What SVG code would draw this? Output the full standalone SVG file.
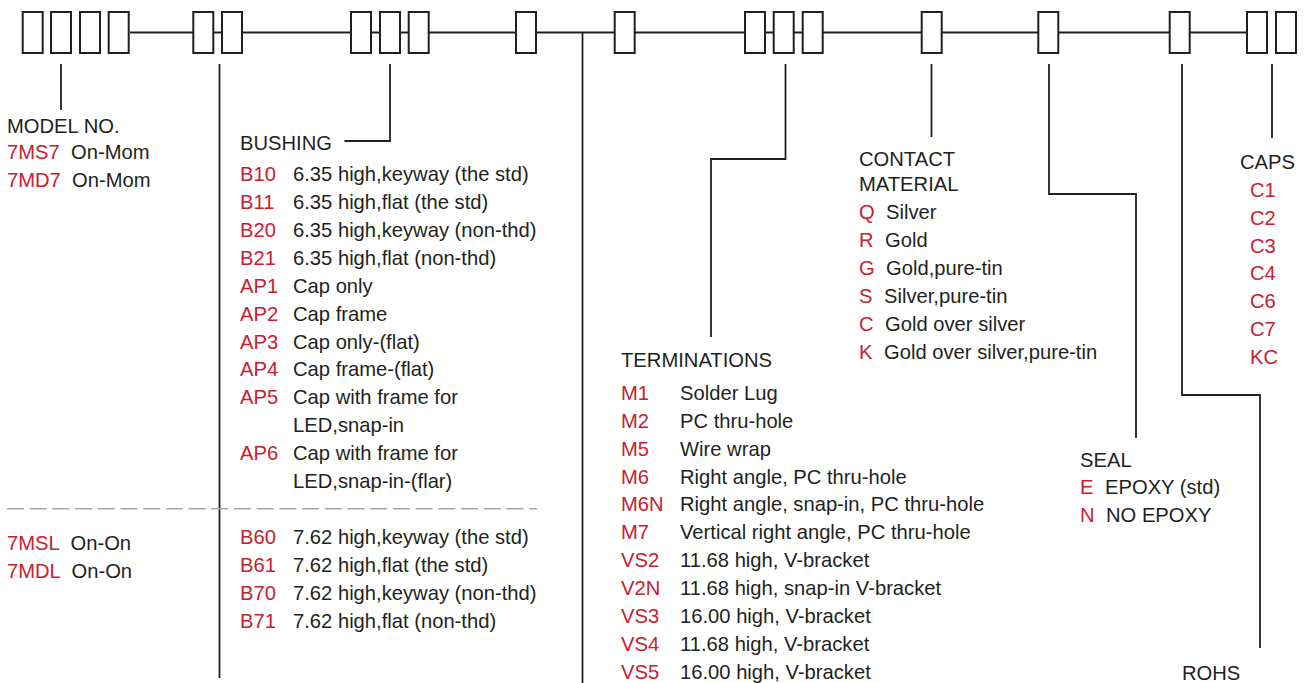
<svg xmlns="http://www.w3.org/2000/svg" width="1315" height="683" viewBox="0 0 1315 683">
<style>
  text { font-family: "Liberation Sans", Arial, sans-serif; font-size: 20.2px; fill: #231f20; }
  .r { fill: #c8202f; }
  .box { fill: #ffffff; stroke: #231f20; stroke-width: 2; }
  .ln { fill: none; stroke: #231f20; stroke-width: 1.8; }
  .dash { fill: none; stroke: #a6a6a6; stroke-width: 1.6; stroke-dasharray: 17 5.7; }
</style>
<rect width="1315" height="683" fill="#ffffff"/>

<g id="connectors">
  <line class="ln" x1="130" y1="32.5" x2="1246" y2="32.5"/>
  <line class="ln" x1="582.5" y1="32.5" x2="582.5" y2="683"/>
  <line class="ln" x1="61" y1="64" x2="61" y2="110"/>
  <line class="ln" x1="219.5" y1="64" x2="219.5" y2="678"/>
  <polyline class="ln" points="390,64 390,141 344.5,141"/>
  <polyline class="ln" points="785.5,64 785.5,159 711,159 711,337"/>
  <line class="ln" x1="931.5" y1="64" x2="931.5" y2="137"/>
  <polyline class="ln" points="1049,64 1049,194 1136,194 1136,438"/>
  <polyline class="ln" points="1182,64 1182,395 1260,395 1260,648"/>
  <line class="ln" x1="1272" y1="64" x2="1272" y2="138"/>
  <line class="dash" x1="7" y1="508.7" x2="537" y2="508.7"/>
</g>

<g id="code-boxes">
  <rect class="box" x="22.7" y="12" width="20" height="41"/>
  <rect class="box" x="51" y="12" width="20" height="41"/>
  <rect class="box" x="80" y="12" width="20" height="41"/>
  <rect class="box" x="108.7" y="12" width="20" height="41"/>
  <rect class="box" x="193.3" y="12" width="20" height="41"/>
  <rect class="box" x="222" y="12" width="20" height="41"/>
  <rect class="box" x="351" y="12" width="20" height="41"/>
  <rect class="box" x="380" y="12" width="20" height="41"/>
  <rect class="box" x="408.7" y="12" width="20" height="41"/>
  <rect class="box" x="516" y="12" width="20" height="41"/>
  <rect class="box" x="614.7" y="12" width="20" height="41"/>
  <rect class="box" x="745" y="12" width="20" height="41"/>
  <rect class="box" x="773.7" y="12" width="20" height="41"/>
  <rect class="box" x="802.7" y="12" width="20" height="41"/>
  <rect class="box" x="921.7" y="12" width="20" height="41"/>
  <rect class="box" x="1038.3" y="12" width="20" height="41"/>
  <rect class="box" x="1169.7" y="12" width="20" height="41"/>
  <rect class="box" x="1247" y="12" width="20" height="41"/>
  <rect class="box" x="1276" y="12" width="20" height="41"/>
</g>

<g id="model-no">
  <text x="7" y="133">MODEL NO.</text>
  <text class="r" x="7" y="159">7MS7</text><text x="71" y="159">On-Mom</text>
  <text class="r" x="7" y="187">7MD7</text><text x="72" y="187">On-Mom</text>
  <text class="r" x="7" y="550">7MSL</text><text x="70.5" y="550">On-On</text>
  <text class="r" x="7" y="578">7MDL</text><text x="71.5" y="578">On-On</text>
</g>

<g id="bushing">
  <text x="240" y="150">BUSHING</text>
  <text class="r" x="240" y="181">B10</text><text x="293" y="181">6.35 high,keyway (the std)</text>
  <text class="r" x="240" y="209">B11</text><text x="293" y="209">6.35 high,flat (the std)</text>
  <text class="r" x="240" y="237">B20</text><text x="293" y="237">6.35 high,keyway (non-thd)</text>
  <text class="r" x="240" y="265">B21</text><text x="293" y="265">6.35 high,flat (non-thd)</text>
  <text class="r" x="240" y="293">AP1</text><text x="293" y="293">Cap only</text>
  <text class="r" x="240" y="321">AP2</text><text x="293" y="321">Cap frame</text>
  <text class="r" x="240" y="348.5">AP3</text><text x="293" y="348.5">Cap only-(flat)</text>
  <text class="r" x="240" y="376">AP4</text><text x="293" y="376">Cap frame-(flat)</text>
  <text class="r" x="240" y="404">AP5</text><text x="293" y="404">Cap with frame for</text>
  <text x="293" y="432">LED,snap-in</text>
  <text class="r" x="240" y="459.5">AP6</text><text x="293" y="459.5">Cap with frame for</text>
  <text x="293" y="487.5">LED,snap-in-(flar)</text>
  <text class="r" x="240" y="544">B60</text><text x="293" y="544">7.62 high,keyway (the std)</text>
  <text class="r" x="240" y="572">B61</text><text x="293" y="572">7.62 high,flat (the std)</text>
  <text class="r" x="240" y="600">B70</text><text x="293" y="600">7.62 high,keyway (non-thd)</text>
  <text class="r" x="240" y="627.5">B71</text><text x="293" y="627.5">7.62 high,flat (non-thd)</text>
</g>

<g id="terminations">
  <text x="621" y="367">TERMINATIONS</text>
  <text class="r" x="621" y="399.5">M1</text><text x="680" y="399.5">Solder Lug</text>
  <text class="r" x="621" y="427.5">M2</text><text x="680" y="427.5">PC thru-hole</text>
  <text class="r" x="621" y="455.5">M5</text><text x="680" y="455.5">Wire wrap</text>
  <text class="r" x="621" y="483.5">M6</text><text x="680" y="483.5">Right angle, PC thru-hole</text>
  <text class="r" x="621" y="511">M6N</text><text x="680" y="511">Right angle, snap-in, PC thru-hole</text>
  <text class="r" x="621" y="539">M7</text><text x="680" y="539">Vertical right angle, PC thru-hole</text>
  <text class="r" x="621" y="567">VS2</text><text x="680" y="567">11.68 high, V-bracket</text>
  <text class="r" x="621" y="595">V2N</text><text x="680" y="595">11.68 high, snap-in V-bracket</text>
  <text class="r" x="621" y="623">VS3</text><text x="680" y="623">16.00 high, V-bracket</text>
  <text class="r" x="621" y="651">VS4</text><text x="680" y="651">11.68 high, V-bracket</text>
  <text class="r" x="621" y="678.5">VS5</text><text x="680" y="678.5">16.00 high, V-bracket</text>
</g>

<g id="contact-material">
  <text x="859" y="166">CONTACT</text>
  <text x="859" y="191">MATERIAL</text>
  <text class="r" x="859" y="219">Q</text><text x="886" y="219">Silver</text>
  <text class="r" x="859" y="246.5">R</text><text x="885" y="246.5">Gold</text>
  <text class="r" x="859" y="274.5">G</text><text x="886" y="274.5">Gold,pure-tin</text>
  <text class="r" x="859" y="302.5">S</text><text x="884" y="302.5">Silver,pure-tin</text>
  <text class="r" x="859" y="330.5">C</text><text x="885" y="330.5">Gold over silver</text>
  <text class="r" x="859" y="358.5">K</text><text x="884" y="358.5">Gold over silver,pure-tin</text>
</g>

<g id="seal">
  <text x="1080" y="467">SEAL</text>
  <text class="r" x="1080" y="494">E</text><text x="1105" y="494">EPOXY (std)</text>
  <text class="r" x="1080" y="522">N</text><text x="1106" y="522">NO EPOXY</text>
</g>

<g id="rohs">
  <text x="1182" y="680">ROHS</text>
</g>

<g id="caps">
  <text x="1240" y="169">CAPS</text>
  <text class="r" x="1250" y="197">C1</text>
  <text class="r" x="1250" y="224.5">C2</text>
  <text class="r" x="1250" y="252.5">C3</text>
  <text class="r" x="1250" y="280">C4</text>
  <text class="r" x="1250" y="308">C6</text>
  <text class="r" x="1250" y="335.5">C7</text>
  <text class="r" x="1250" y="363.5">KC</text>
</g>
</svg>
